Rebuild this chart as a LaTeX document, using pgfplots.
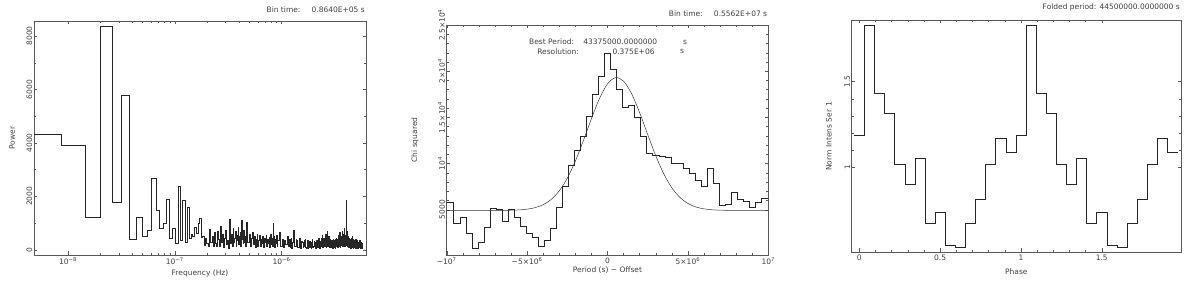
\documentclass[border=0pt]{standalone}
\usepackage{pgfplots}
\pgfplotsset{compat=1.18}
\usepackage{fontspec}
\setmainfont{DejaVu Sans}
\definecolor{ink}{gray}{0.25}
\definecolor{frame}{gray}{0.35}
\newcommand{\fs}{\fontsize{7.5}{8}\selectfont}
\pgfplotsset{
  every axis/.append style={
    scale only axis,
    axis line style={frame, line width=0.5pt},
    every tick/.style={frame, line width=0.4pt},
    tick align=inside,
    xtick pos=both, ytick pos=both,
    scaled ticks=false,
    major tick length=3.5pt, minor tick length=2pt,
    tick label style={font=\fs, text=ink},
    label style={font=\fs, text=ink},
    title style={font=\fs, text=ink, at={(axis description cs:1,1)}, anchor=south east, inner sep=1pt, yshift=1.5pt},
    yticklabel style={rotate=90, anchor=south, inner sep=1.5pt},
    xticklabel style={inner sep=1.5pt, yshift=-1pt},
    /pgf/number format/assume math mode=true,
    /pgf/number format/1000 sep={},
  },
}
\begin{document}
\begin{tikzpicture}
\useasboundingbox (0,0) rectangle (1200pt,283pt);
% ---------------- Panel 1: power spectrum ----------------
\begin{axis}[
  at={(34pt,28pt)}, anchor=south west,
  width=332pt, height=234pt,
  xmode=log, xmin=4.8, xmax=6200,
  ymin=-190, ymax=8560,
  xtick={10,100,1000}, xticklabels={10\textsuperscript{−8},10\textsuperscript{−7},10\textsuperscript{−6}},
  ytick={0,2000,4000,6000,8000}, minor y tick num=1,
  xlabel={Frequency (Hz)}, ylabel={Power},
  xlabel style={at={(axis description cs:0.5,-0.077)}, anchor=center},
  ylabel style={at={(axis description cs:-0.066,0.5)}, anchor=center},
  title={Bin time:\quad\enspace 0.8640E+05 s},
]
\addplot[const plot, black!85, line width=0.55pt] coordinates {
(2.894,4324) (8.681,3925) (14.468,1221) (20.255,8374) (26.042,1769) (31.829,5794)
(37.616,411) (43.403,1221) (49.19,498) (54.977,723) (60.764,2679) (66.551,1470)
(72.338,822) (78.125,997) (83.912,1907) (89.699,436) (95.486,810) (101.27,250)
(107.06,2370) (112.85,350) (118.63,1870) (124.42,300) (130.21,1600) (135.99,450)
(141.78,600) (147.57,500) (153.36,850) (159.14,620) (164.93,980) (170.72,1180)
(176.50,480) (182.29,520) (188.08,180) (193.86,450) (199.65,250) (205.44,120)
(211.23,780) (217.01,300) (222.80,500) (228.59,150)
(234.4,650) (240.2,250) (245.9,120) (251.7,700) (257.5,400) (263.3,150) (269.1,880)
(274.9,300) (280.7,600) (286.5,100) (292.2,450) (298.0,750) (303.8,200) (309.6,350)
(315.4,80) (321.2,500) (327.0,1150) (332.8,250) (338.5,600) (344.3,150) (350.1,820)
(355.9,300) (361.7,450) (367.5,700) (373.3,120) (379.1,550) (384.8,350) (390.6,850)
(396.4,200) (402.2,500) (408.0,650) (413.8,150) (419.6,1100) (425.3,400) (431.1,600)
(436.9,250) (442.7,720) (448.5,300) (454.3,520) (460.1,150)
(471.6,1050) (483.2,300) (494.8,600) (506.4,150) (517.9,450) (529.5,650) (541.1,200)
(552.7,500) (564.2,100) (575.8,400) (587.4,600) (599.0,150) (610.5,350) (622.1,550)
(633.7,120) (645.3,400) (656.9,250) (668.4,500) (680.0,100) (691.5,450) (703.1,300)
(714.7,550) (726.3,120) (737.8,400) (749.4,250) (761.0,480) (772.6,100) (784.1,600)
(795.7,200) (807.3,450) (818.9,150) (830.4,1000) (842.0,200) (853.6,500) (865.2,100)
(876.7,400) (888.3,250) (899.9,550) (911.5,120) (923.0,350)
(952,650) (981,150) (1010,400) (1039,100) (1068,350) (1097,200) (1126,500) (1155,120)
(1178,380) (1201,90) (1224,420) (1248,80) (1271,300) (1294,750) (1317,120) (1340,150)
(1363,400) (1386,350) (1410,90) (1433,100) (1456,380) (1479,450) (1502,70) (1525,80)
(1549,330) (1572,300) (1595,110) (1618,120) (1641,360) (1664,400) (1688,90) (1711,60)
(1734,320) (1757,350) (1780,80) (1803,100) (1826,340) (1849,300) (1873,90) (1896,80)
(1919,300) (1942,380) (1965,100) (1988,120) (2011,330) (2035,280) (2058,70) (2081,60)
(2104,300) (2127,350) (2150,90) (2174,100) (2197,380) (2220,420) (2243,70) (2266,80)
(2289,320) (2312,300) (2336,120) (2359,150) (2382,420) (2405,550) (2428,90) (2451,100)
(2475,420) (2498,450) (2521,120) (2544,150) (2567,500) (2590,600) (2613,100) (2637,120)
(2660,450) (2683,700) (2706,150) (2729,200) (2752,420) (2775,500) (2798,90) (2822,100)
(2845,380) (2868,400) (2891,100) (2914,150) (2937,300) (2961,350) (2984,70) (3007,80)
(3030,350) (3053,400) (3076,100) (3100,120) (3123,350) (3146,300) (3169,70) (3192,80)
(3215,400) (3238,450) (3262,120) (3285,150) (3308,380) (3331,400) (3354,90) (3377,100)
(3400,480) (3424,550) (3447,120) (3470,150) (3493,500) (3516,650) (3539,90) (3563,100)
(3586,450) (3609,500) (3632,180) (3655,200) (3678,550) (3701,700) (3724,130) (3748,150)
(3771,500) (3794,600) (3817,200) (3840,250) (3863,600) (3887,800) (3910,130) (3933,150)
(3956,500) (3979,550) (4002,200) (4026,1850) (4049,180) (4072,200) (4095,600) (4118,700)
(4141,130) (4164,150) (4187,450) (4211,500) (4234,90) (4257,100) (4280,400) (4303,450)
(4326,130) (4350,150) (4373,350) (4396,400) (4419,70) (4442,80) (4465,320) (4489,350)
(4512,130) (4535,150) (4558,420) (4581,500) (4604,90) (4627,100) (4651,380) (4674,400)
(4697,70) (4720,80) (4743,300) (4766,350) (4789,100) (4813,120) (4836,280) (4859,300)
(4882,60) (4905,60) (4928,350) (4952,400) (4975,90) (4998,100) (5021,260) (5044,300)
(5067,70) (5090,80) (5113,320) (5137,350) (5160,100) (5183,120) (5206,250) (5229,280)
(5252,60) (5276,60) (5299,280) (5322,300) (5345,90) (5368,100) (5391,320) (5415,350)
(5438,70) (5461,80) (5484,260) (5507,280) (5530,100) (5553,120) (5576,280) (5600,300)
(5623,60) (5646,60) (5669,230) (5692,250) (5715,90) (5739,100) (5785,100)
};
\end{axis}
% ---------------- Panel 2: chi squared vs period ----------------
\begin{axis}[
  at={(446.7pt,28pt)}, anchor=south west,
  width=321.6pt, height=230pt,
  xmin=-10, xmax=10, ymin=100, ymax=25000,
  xtick={-10,-5,0,5,10},
  xticklabels={−10\textsuperscript{7},−5×10\textsuperscript{6},0,5×10\textsuperscript{6},10\textsuperscript{7}},
  minor x tick num=4,
  ytick={5000,10000,15000,20000,25000},
  yticklabels={5000,10\textsuperscript{4},1.5×10\textsuperscript{4},2×10\textsuperscript{4},2.5×10\textsuperscript{4}},
  minor y tick num=4,
  xlabel={Period (s) − Offset}, ylabel={Chi squared},
  xlabel style={at={(axis description cs:0.5,-0.065)}, anchor=center},
  ylabel style={at={(axis description cs:-0.0986,0.5)}, anchor=center},
  title={Bin time:\quad\enspace 0.5562E+07 s},
  clip=true,
]
\addplot[const plot, black!85, line width=0.5pt] coordinates {
(-10.3125,5793) (-9.9375,5793) (-9.5625,3554) (-9.1875,4207) (-8.8125,2467) (-8.4375,837)
(-8.0625,1446) (-7.6875,3076) (-7.3125,5181) (-6.9375,5000) (-6.5625,3732) (-6.1875,5072)
(-5.8125,4167) (-5.4375,3261) (-5.0625,2467) (-4.6875,2033) (-4.3125,1087) (-3.9375,1739)
(-3.5625,2967) (-3.1875,5290) (-2.8125,7536) (-2.4375,9850) (-2.0625,11400) (-1.6875,13000)
(-1.3125,15076) (-0.9375,17500) (-0.5625,19493) (-0.1875,21920) (0.1875,20217) (0.5625,18043)
(0.9375,16050) (1.3125,16300) (1.6875,14967) (2.0625,13000) (2.4375,11159) (2.8125,10900)
(3.1875,10800) (3.5625,10650) (3.9375,10072) (4.3125,10000) (4.6875,9529) (5.0625,8986)
(5.4375,8188) (5.8125,7536) (6.1875,9457) (6.5625,7899) (6.9375,5435) (7.3125,5543)
(7.6875,6884) (8.0625,6159) (8.4375,5906) (8.8125,5290) (9.1875,5797) (9.5625,6196)
(9.9375,6196) (10.3125,6196)
};
\addplot[smooth, black!80, line width=0.5pt] coordinates {
(-10,4924) (-8,4925) (-7,4930) (-6,4946) (-5.5,4981) (-5,5061) (-4.5,5226) (-4,5549)
(-3.5,6118) (-3,7045) (-2.5,8416) (-2,10259) (-1.5,12481) (-1,14857) (-0.5,17039)
(0,18626) (0.5,19302) (1,18918) (1.5,17557) (2,15505) (2.5,13144) (3,10847) (3.5,8884)
(4,7380) (4.5,6337) (5,5678) (5.5,5297) (6,5095) (6.5,4997) (7,4953) (8,4926) (10,4924)
};
\node[anchor=west, font=\fs, text=ink, inner sep=0pt] at (rel axis cs:0.256,0.926) {Best Period:};
\node[anchor=west, font=\fs, text=ink, inner sep=0pt] at (rel axis cs:0.424,0.926) {43375000.0000000};
\node[anchor=center, font=\fs, text=ink, inner sep=0pt] at (rel axis cs:0.741,0.926) {s};
\node[anchor=west, font=\fs, text=ink, inner sep=0pt] at (rel axis cs:0.281,0.883) {Resolution:};
\node[anchor=east, font=\fs, text=ink, inner sep=0pt] at (rel axis cs:0.647,0.883) {0.375E+06};
\node[anchor=center, font=\fs, text=ink, inner sep=0pt] at (rel axis cs:0.732,0.883) {s};
\end{axis}
% ---------------- Panel 3: folded light curve ----------------
\begin{axis}[
  at={(851.7pt,31pt)}, anchor=south west,
  width=329.3pt, height=232pt,
  xmin=-0.047, xmax=1.99, ymin=0.506, ymax=1.86,
  xtick={0,0.5,1,1.5}, minor x tick num=4,
  ytick={1,1.5}, minor y tick num=4,
  xlabel={Phase}, ylabel={Norm Intens Ser\enspace 1},
  xlabel style={at={(axis description cs:0.5,-0.086)}, anchor=center},
  ylabel style={at={(axis description cs:-0.069,0.5)}, anchor=center},
  title={Folded period: 44500000.0000000 s},
]
\addplot[const plot, black!85, line width=0.5pt] coordinates {
(-0.03125,1.189) (0.03125,1.827) (0.09375,1.435) (0.15625,1.315) (0.21875,1.017) (0.28125,0.904)
(0.34375,1.056) (0.40625,0.671) (0.46875,0.737) (0.53125,0.546) (0.59375,0.533) (0.65625,0.671)
(0.71875,0.815) (0.78125,1.017) (0.84375,1.171) (0.90625,1.091)
(0.96875,1.189) (1.03125,1.827) (1.09375,1.435) (1.15625,1.315) (1.21875,1.017) (1.28125,0.904)
(1.34375,1.056) (1.40625,0.671) (1.46875,0.737) (1.53125,0.546) (1.59375,0.533) (1.65625,0.671)
(1.71875,0.815) (1.78125,1.017) (1.84375,1.171) (1.90625,1.091) (1.96875,1.091)
};
\end{axis}
\end{tikzpicture}
\end{document}
